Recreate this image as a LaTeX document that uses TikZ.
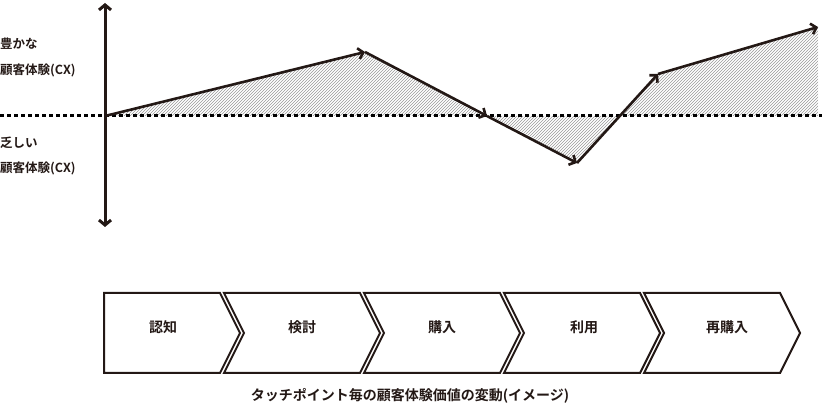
\documentclass[tikz,border=0pt]{standalone}
\usepackage{fontspec}
\setmainfont{Noto Sans CJK JP}[BoldFont={Noto Sans CJK JP Bold}]
\usetikzlibrary{arrows.meta,patterns}
\definecolor{ink}{HTML}{231815}
\tikzset{
 curve/.style={ink,line width=2.6pt,-{Straight Barb[length=5pt,width=11pt]}},
 hatch/.style={pattern=north east lines,pattern color=gray!80},
 chev/.style={draw=ink,line width=2pt,fill=white},
 lab/.style={font=\bfseries\fontsize{14}{16}\selectfont,text=ink},
 side/.style={font=\bfseries\fontsize{12.5}{14}\selectfont,text=ink,anchor=west,align=left}
}
\begin{document}
\begin{tikzpicture}[x=1pt,y=-1pt]
\useasboundingbox (0,0) rectangle (822,411);
\coordinate (p0) at (105,116);
\coordinate (p1) at (365,52);
\coordinate (p2) at (487,116);
\coordinate (p3) at (577,163);
\coordinate (p4) at (658,74);
\coordinate (p5) at (818,27);
\fill[hatch] (p0)--(p1)--(p2)--cycle;
\fill[hatch] (p2)--(p3)--(620,116)--cycle;
\fill[hatch] (620,116)--(p4)--(p5)--(818,116)--cycle;
\coordinate (dl) at (0,116); \coordinate (dr) at (822,116);
\draw[black,line width=3pt,dash pattern=on 3.5pt off 3.5pt] (dl)--(dr);
\coordinate (at) at (105,3); \coordinate (ab) at (105,227);
\draw[ink,line width=3pt,{Straight Barb[length=5pt,width=12pt]}-{Straight Barb[length=5pt,width=12pt]}] (at)--(ab);
\draw[curve] (p0)--(p1);
\draw[curve] (p1)--(p2);
\draw[curve] (p2)--(p3);
\draw[curve] (p3)--(p4);
\draw[curve] (p4)--(p5);
\node[side,inner sep=0pt] (r1) at (0,44) {豊かな};
\node[side,inner sep=0pt] (r2) at (0,70) {顧客体験(CX)};
\node[side,inner sep=0pt] (s1) at (0,143) {乏しい};
\node[side,inner sep=0pt] (s2) at (0,168) {顧客体験(CX)};
\foreach \x/\t [count=\i] in {104/認知,244/検討,384/購入,524/利用,664/再購入}{
 \pgfmathsetmacro{\xe}{\x+136}
 \ifnum\i=1
  \draw[chev] (\x,293) -- (\xe-20,293) -- (\xe,333) -- (\xe-20,373) -- (\x,373) -- cycle;
 \else
  \draw[chev] (\x-20,293) -- (\xe-20,293) -- (\xe,333) -- (\xe-20,373) -- (\x-20,373) -- (\x,333) -- cycle;
 \fi
}
\node[lab] (c1) at (163,327) {認知};
\node[lab] (c2) at (302,327) {検討};
\node[lab] (c3) at (442,327) {購入};
\node[lab] (c4) at (584,327) {利用};
\node[lab] (c5) at (727,327) {再購入};
\node[lab] (cap) at (410,396) {タッチポイント毎の顧客体験価値の変動(イメージ)};
\end{tikzpicture}
\end{document}
